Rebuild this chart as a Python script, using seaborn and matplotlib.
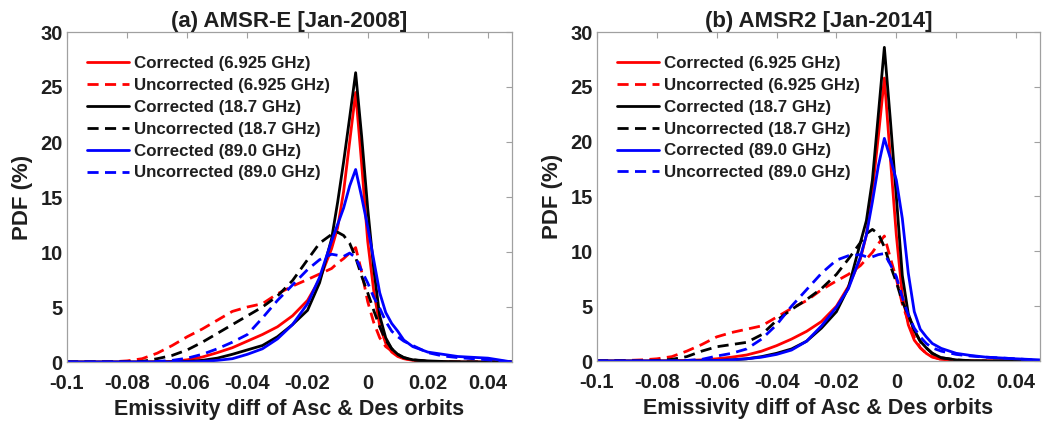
import matplotlib
matplotlib.use("Agg")
import matplotlib.pyplot as plt
import seaborn as sns
import pandas as pd
from matplotlib.font_manager import FontProperties

# ---------------- data ----------------
x_vals = [-0.1, -0.09, -0.085, -0.08, -0.075, -0.07, -0.065, -0.06, -0.055, -0.05,
          -0.045, -0.04, -0.035, -0.03, -0.025, -0.02, -0.016, -0.012, -0.01, -0.008,
          -0.006, -0.004, -0.002, 0.0, 0.002, 0.004, 0.006, 0.008, 0.01, 0.012,
          0.015, 0.02, 0.025, 0.03, 0.04, 0.048]

labels = ["Corrected (6.925 GHz)", "Uncorrected (6.925 GHz)",
          "Corrected (18.7 GHz)", "Uncorrected (18.7 GHz)",
          "Corrected (89.0 GHz)", "Uncorrected (89.0 GHz)"]

titles = ["(a) AMSR-E [Jan-2008]", "(b) AMSR2 [Jan-2014]"]

# Panel (a) AMSR-E
a_cor_69 = [0, 0, 0, 0, 0, 0.02, 0.05, 0.2, 0.45, 0.85, 1.3, 1.9, 2.5, 3.2, 4.2, 5.6, 7.5, 10.3,
            12.2, 15.5, 20.0, 24.5, 18.0, 11.0, 6.5, 3.3, 1.7, 0.9, 0.5, 0.3, 0.15, 0.05, 0.02, 0, 0, 0]
a_unc_69 = [0, 0, 0.02, 0.1, 0.3, 0.8, 1.5, 2.3, 3.0, 3.8, 4.6, 5.0, 5.3, 6.2, 6.9, 7.5, 8.0, 8.5,
            9.0, 9.4, 9.9, 10.4, 8.2, 5.5, 3.6, 2.2, 1.4, 1.0, 0.6, 0.35, 0.15, 0.05, 0, 0, 0, 0]
a_cor_18 = [0, 0, 0, 0, 0, 0, 0.02, 0.05, 0.15, 0.35, 0.7, 1.1, 1.5, 2.3, 3.4, 4.7, 7.2, 11.2,
            14.5, 18.2, 22.2, 26.3, 20.5, 14.0, 8.5, 4.2, 2.2, 1.2, 0.7, 0.4, 0.2, 0.1, 0.05, 0.02, 0, 0]
a_unc_18 = [0, 0, 0, 0.02, 0.05, 0.3, 0.6, 1.1, 1.8, 2.6, 3.4, 4.2, 5.0, 6.0, 7.4, 9.3, 10.8, 11.6,
            11.8, 11.5, 10.8, 9.5, 7.8, 6.3, 4.7, 3.2, 2.0, 1.2, 0.7, 0.4, 0.2, 0.05, 0, 0, 0, 0]
a_cor_89 = [0, 0, 0, 0, 0, 0, 0, 0.02, 0.05, 0.15, 0.3, 0.7, 1.2, 2.1, 3.4, 5.3, 7.7, 11.0,
            12.5, 14.0, 16.0, 17.5, 15.0, 12.3, 9.3, 6.3, 4.5, 3.5, 2.8, 2.0, 1.4, 0.9, 0.7, 0.5, 0.35, 0]
a_unc_89 = [0, 0, 0, 0, 0, 0.05, 0.15, 0.35, 0.7, 1.2, 1.8, 2.5, 4.0, 5.6, 7.0, 8.4, 9.3, 9.8,
            9.7, 9.6, 9.9, 9.5, 8.3, 7.2, 5.9, 4.9, 3.7, 2.8, 2.3, 1.9, 1.5, 0.85, 0.55, 0.4, 0.2, 0]

# Panel (b) AMSR2
b_cor_69 = [0, 0, 0, 0, 0.02, 0.05, 0.1, 0.2, 0.35, 0.55, 0.9, 1.4, 2.0, 2.7, 3.6, 5.0, 6.8, 9.3,
            11.5, 15.5, 20.5, 25.8, 18.5, 11.5, 6.0, 3.3, 1.9, 1.2, 0.7, 0.35, 0.15, 0.05, 0, 0, 0, 0]
b_unc_69 = [0, 0.05, 0.1, 0.2, 0.4, 0.9, 1.5, 2.2, 2.6, 2.9, 3.2, 4.0, 4.8, 5.5, 6.5, 7.3, 7.9, 8.7,
            9.3, 9.9, 10.7, 11.4, 9.4, 7.5, 5.2, 3.6, 2.2, 1.2, 0.7, 0.4, 0.15, 0.05, 0, 0, 0, 0]
b_cor_18 = [0, 0, 0, 0, 0, 0, 0.02, 0.05, 0.1, 0.2, 0.4, 0.7, 1.1, 1.8, 3.0, 4.5, 6.7, 10.8,
            12.8, 16.5, 22.5, 28.6, 22.0, 15.0, 7.8, 4.3, 2.8, 1.8, 1.2, 0.7, 0.3, 0.1, 0.03, 0, 0, 0]
b_unc_18 = [0, 0, 0, 0.05, 0.15, 0.4, 0.9, 1.3, 1.5, 1.7, 2.4, 3.7, 4.7, 5.6, 6.6, 7.9, 9.3, 10.8,
            11.6, 12.0, 11.6, 10.4, 8.7, 7.2, 5.4, 4.2, 2.8, 1.8, 1.2, 0.7, 0.3, 0.1, 0, 0, 0, 0]
b_cor_89 = [0, 0, 0, 0, 0, 0, 0.02, 0.05, 0.1, 0.2, 0.35, 0.6, 1.0, 1.8, 3.2, 4.9, 6.6, 9.5,
            11.5, 14.5, 17.8, 20.3, 18.5, 16.5, 13.0, 8.0, 4.5, 2.9, 2.2, 1.6, 1.15, 0.7, 0.5, 0.35, 0.2, 0.1]
b_unc_89 = [0, 0, 0, 0, 0, 0.05, 0.15, 0.45, 0.7, 1.1, 2.0, 3.3, 5.0, 6.5, 8.0, 9.2, 9.6, 9.7,
            9.5, 9.5, 9.7, 9.8, 8.8, 7.7, 5.8, 4.2, 3.0, 2.2, 1.6, 1.2, 0.9, 0.6, 0.45, 0.35, 0.2, 0.05]

panel_a = [a_cor_69, a_unc_69, a_cor_18, a_unc_18, a_cor_89, a_unc_89]
panel_b = [b_cor_69, b_unc_69, b_cor_18, b_unc_18, b_cor_89, b_unc_89]

x_ticks = [-0.1, -0.08, -0.06, -0.04, -0.02, 0, 0.02, 0.04]
x_ticklabels = ["-0.1", "-0.08", "-0.06", "-0.04", "-0.02", "0", "0.02", "0.04"]
y_ticks = [0, 5, 10, 15, 20, 25, 30]

# ---------------- style ----------------
colors = ["#ff0000", "#ff0000", "#000000", "#000000", "#0000ff", "#0000ff"]
dashed = [False, True, False, True, False, True]

sns.set_style("white")
plt.rcParams["font.family"] = ["Liberation Sans", "DejaVu Sans"]
plt.rcParams["font.weight"] = "bold"

W, H = 1045, 423
fig = plt.figure(figsize=(W / 100, H / 100), dpi=100)

axes_px = [(67, 512, 32, 362), (597, 1040, 32, 361)]

text_col = "#1f1f1f"
axis_col = "#a0a0a0"

for idx, (series, title) in enumerate(zip([panel_a, panel_b], titles)):
    l, r, t, b = axes_px[idx]
    ax = fig.add_axes([l / W, 1 - b / H, (r - l) / W, (b - t) / H])
    for k, ys in enumerate(series):
        df = pd.DataFrame({"x": x_vals, "y": ys})
        sns.lineplot(data=df, x="x", y="y", ax=ax, color=colors[k], lw=2.0,
                     label=labels[k], sort=False)
        line = ax.lines[-1]
        if dashed[k]:
            line.set_dashes((4.0, 2.3))
    ax.set_xlim(-0.1, 0.048)
    ax.set_ylim(0, 30)
    ax.set_xticks(x_ticks)
    ax.set_xticklabels(x_ticklabels)
    ax.set_yticks(y_ticks)
    ax.tick_params(axis="both", which="both", direction="in", length=4, width=0.8,
                   color=axis_col, top=True, right=True, labelsize=14.5,
                   labelcolor=text_col)
    ax.tick_params(axis="x", pad=8.5)
    ax.tick_params(axis="y", pad=3)
    for tl in ax.get_xticklabels() + ax.get_yticklabels():
        tl.set_fontweight("bold")
    for sp in ax.spines.values():
        sp.set_color(axis_col)
        sp.set_linewidth(0.9)
    ax.set_xlabel("Emissivity diff of Asc & Des orbits", fontsize=15.5,
                  fontweight="bold", color=text_col, labelpad=4.5)
    ax.set_ylabel("PDF (%)", fontsize=16, fontweight="bold", color=text_col,
                  labelpad=5)
    ax.set_title(title, fontsize=16, fontweight="bold", color=text_col, pad=3.5)
    leg = ax.legend(loc="upper left", bbox_to_anchor=(0.045, 0.928), frameon=False,
                    prop=FontProperties(family="Liberation Sans", weight="bold", size=12.2),
                    handlelength=2.5, handletextpad=0.3, labelspacing=0.41,
                    borderpad=0, borderaxespad=0)
    for txt in leg.get_texts():
        txt.set_color(text_col)

fig.savefig("out.png", dpi=100)
